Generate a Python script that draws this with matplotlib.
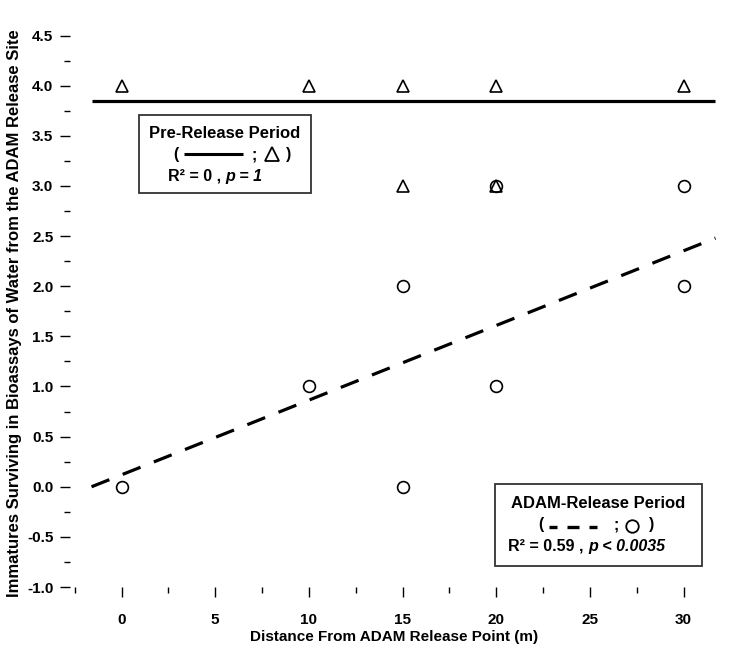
import numpy as np
import matplotlib
matplotlib.use("Agg")
import matplotlib.pyplot as plt
from matplotlib.ticker import MultipleLocator

plt.rcParams['font.family'] = ['Liberation Sans', 'DejaVu Sans']
plt.rcParams['font.weight'] = 'bold'

# pre-release period (triangles)
pre_x = [0, 10, 15, 20, 30, 15, 20]
pre_y = [4, 4, 4, 4, 4, 3, 3]
# ADAM-release period (circles)
adam_x = [0, 10, 15, 15, 20, 20, 30, 30]
adam_y = [0, 1, 2, 0, 3, 1, 3, 2]

# fitted lines
fit_x = [-1.6, 31.7]
pre_fit_y = [3.85, 3.85]
adam_fit_y = [0.0, 2.48]

fig = plt.figure(figsize=(7.29, 6.53), dpi=100)
ax = fig.add_axes([0.096, 0.101, 0.888, 0.863])

ax.plot(fit_x, pre_fit_y, color='black', lw=2.3, solid_capstyle='butt')
ax.plot(fit_x, adam_fit_y, color='black', lw=2.3, dashes=(6, 4.5), dash_capstyle='butt')
ax.plot(pre_x, pre_y, ls='none', marker='^', ms=8.5, mfc='none', mec='black', mew=1.2)
ax.plot(adam_x, adam_y, ls='none', marker='o', ms=8.5, mfc='none', mec='black', mew=1.2)

ax.set_xlim(-2.75, 31.8)
ax.set_ylim(-1.0, 4.62)
for s in ax.spines.values():
    s.set_visible(False)

ax.xaxis.set_minor_locator(MultipleLocator(2.5))
ax.yaxis.set_minor_locator(MultipleLocator(0.25))
ax.set_xticks(range(0, 31, 5))
yt = np.arange(-1.0, 4.51, 0.5)
ax.set_yticks(yt)
ax.set_yticklabels(['%.1f' % v for v in yt])
ax.tick_params(axis='both', which='major', direction='out', length=7, width=1,
               labelsize=11, pad=5)
ax.tick_params(axis='both', which='minor', direction='out', length=4, width=1)
ax.tick_params(axis='x', which='both', pad=12)
for lab in ax.get_xticklabels() + ax.get_yticklabels():
    lab.set_fontweight('bold')

ax.set_xlabel('Distance From ADAM Release Point (m)', fontsize=11, fontweight='bold', labelpad=2)
fig.text(15 / 729, 1 - 313 / 653,
         'Immatures Surviving in Bioassays of Water from the ADAM Release Site',
         rotation=90, ha='center', va='center', fontsize=12, fontweight='bold')

F = fig.transFigure


def px(x, y):
    return x / 729, 1 - y / 653


def box(x0, y0, x1, y1):
    ax.add_patch(plt.Rectangle(px(x0, y1), (x1 - x0) / 729, (y1 - y0) / 653,
                               transform=F, fc='white', ec='#333333', lw=1.3,
                               clip_on=False, zorder=5))


def txt(x, y, s, size=11.5, **kw):
    return ax.text(*px(x, y), s, transform=F, va='center', fontsize=size,
                   fontweight='bold', zorder=6, clip_on=False, **kw)


def seg(x0, x1, y, lw=2.2):
    (a, b), (c, d) = px(x0, y), px(x1, y)
    ax.plot([a, c], [b, d], transform=F, color='black', lw=lw, clip_on=False,
            zorder=6, solid_capstyle='butt')


# text box: pre-release
box(139, 115, 311, 193)
txt(225, 133, 'Pre-Release Period', ha='center', size=12)
txt(176, 155, '(', ha='center')
seg(184, 243, 154)
txt(254, 155, ';', ha='center')
ax.plot(*px(272, 154), transform=F, marker='^', ms=10, mfc='none', mec='black',
        mew=1.3, clip_on=False, zorder=6)
txt(289, 155, ')', ha='center')
t1 = txt(168, 176, 'R² = 0 , ', ha='left')
ax.annotate('p = 1', xy=(1, 0.5), xycoords=t1, va='center', ha='left', zorder=6,
            fontsize=11.5, fontweight='bold', style='italic', annotation_clip=False)

# text box: ADAM-release
box(495, 484, 702, 566)
txt(598, 503, 'ADAM-Release Period', ha='center', size=12)
txt(541, 525, '(', ha='center')
seg(549, 557, 527, lw=2.4)
seg(567, 579, 527, lw=2.4)
seg(589, 597, 527, lw=2.4)
txt(616, 525, ';', ha='center')
ax.plot(*px(632, 526), transform=F, marker='o', ms=9, mfc='none', mec='black',
        mew=1.3, clip_on=False, zorder=6)
txt(652, 525, ')', ha='center')
t2 = txt(508, 546, 'R² = 0.59 , ', ha='left')
ax.annotate('p < 0.0035', xy=(1, 0.5), xycoords=t2, va='center', ha='left', zorder=6,
            fontsize=11.5, fontweight='bold', style='italic', annotation_clip=False)

fig.savefig('out.png', dpi=100)
